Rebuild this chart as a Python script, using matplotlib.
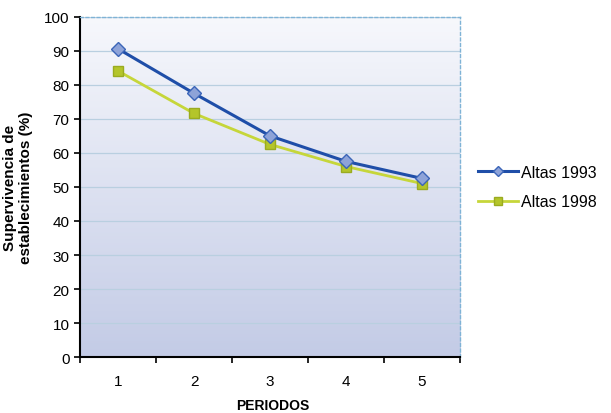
import matplotlib
matplotlib.use("Agg")
import matplotlib.pyplot as plt
import numpy as np
from matplotlib.colors import LinearSegmentedColormap

plt.rcParams['font.family'] = ['Liberation Sans', 'DejaVu Sans']

periodos = ["1", "2", "3", "4", "5"]
altas_1993 = [90.6, 77.5, 65.0, 57.5, 52.5]
altas_1998 = [84.1, 71.6, 62.5, 56.0, 51.0]
y_ticks = [0, 10, 20, 30, 40, 50, 60, 70, 80, 90, 100]

fig = plt.figure(figsize=(6.11, 4.14), dpi=100)
ax = fig.add_axes([0.131, 0.135, 0.622, 0.822])

x = np.arange(1, len(periodos) + 1)
ax.set_xlim(0.5, len(periodos) + 0.5)
ax.set_ylim(0, 100)

# gradient background
cmap = LinearSegmentedColormap.from_list("bg", ["#c3cbe6", "#f7f8fc"])
grad = np.linspace(0, 1, 256).reshape(-1, 1)
ax.imshow(grad, extent=[0.5, len(periodos) + 0.5, 0, 100], aspect='auto',
          cmap=cmap, origin='lower', zorder=0)

for t in y_ticks[1:]:
    ax.axhline(t, color="#b9cfe0", lw=0.9, zorder=1)

ax.plot(x, altas_1993, color="#1f4ea8", lw=2.2, marker="D", ms=7,
        mfc="#8ea3d8", mec="#3b65b8", mew=1.0, label="Altas 1993", zorder=3)
ax.plot(x, altas_1998, color="#c6d63a", lw=2.0, marker="s", ms=7,
        mfc="#b4c52a", mec="#9aab20", mew=1.0, label="Altas 1998", zorder=2)

ax.set_yticks(y_ticks)
ax.set_xticks(x)
ax.set_xticklabels(periodos)
ax.set_xticks(np.arange(0.5, len(periodos) + 1.0, 1.0), minor=True)
ax.tick_params(axis='x', which='major', length=0, labelsize=11, pad=12)
ax.tick_params(axis='x', which='minor', length=4, width=1.2, direction='out')
ax.tick_params(axis='y', length=4, width=1.2, direction='out', labelsize=11)

ax.spines['left'].set_color('black')
ax.spines['left'].set_linewidth(1.5)
ax.spines['bottom'].set_color('black')
ax.spines['bottom'].set_linewidth(1.5)
for s in ['top', 'right']:
    ax.spines[s].set_color('#7fb3d6')
    ax.spines[s].set_linestyle((0, (2, 2)))
    ax.spines[s].set_linewidth(1.0)

fig.text(0.446, 1 - 406 / 414, "PERIODOS", fontweight='bold', fontsize=10,
         ha='center', va='center')
ax.set_ylabel("Supervivencia de\nestablecimientos (%)", fontweight='bold',
              fontsize=11, labelpad=8)

leg = ax.legend(loc='center left', bbox_to_anchor=(1.03, 0.5), frameon=False,
                fontsize=11.5, handlelength=2.5, handletextpad=0.2,
                labelspacing=0.9, markerscale=0.8, borderpad=0.2,
                borderaxespad=0.2)

fig.savefig("out.png", dpi=100)
